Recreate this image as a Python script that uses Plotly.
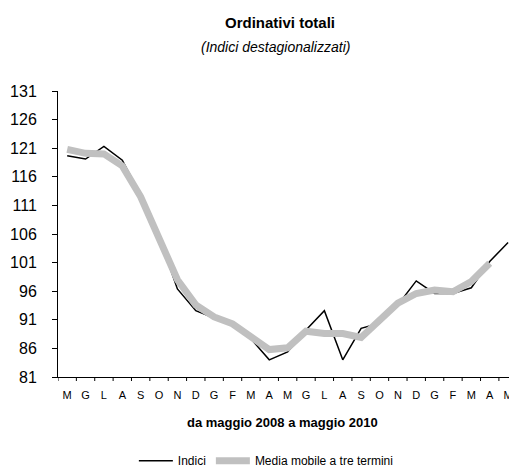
import plotly.graph_objects as go

months = ["M", "G", "L", "A", "S", "O", "N", "D", "G", "F", "M", "A",
          "M", "G", "L", "A", "S", "O", "N", "D", "G", "F", "M", "A", "M"]
indici = [119.7, 119.1, 121.3, 118.9, 112.8, 105.5, 96.4, 92.6, 91.3, 90.1,
          87.7, 84.0, 85.4, 89.2, 92.6, 84.0, 89.5, 90.4, 93.6, 97.8,
          95.6, 95.6, 96.6, 101.2, 104.5]
media = [120.8, 120.1, 120.0, 117.9, 112.5, 105.3, 98.0, 93.6, 91.5, 90.3,
         87.9, 85.8, 86.1, 89.0, 88.6, 88.6, 87.9, 90.7, 93.9, 95.6,
         96.2, 95.9, 97.7, 100.9, None]
y_ticks = [81, 86, 91, 96, 101, 106, 111, 116, 121, 126, 131]

x_idx = list(range(len(months)))
FONT = "Liberation Sans, Arial, sans-serif"

fig = go.Figure()
fig.add_trace(go.Scatter(x=x_idx, y=indici, mode="lines", name="Indici",
                         line=dict(color="black", width=1.5)))
fig.add_trace(go.Scatter(x=x_idx, y=media, mode="lines",
                         name="Media mobile a tre termini",
                         line=dict(color="#c0c0c0", width=7)))

fig.update_layout(
    width=509, height=472,
    margin=dict(l=58, r=0, t=91, b=95, autoexpand=False),
    paper_bgcolor="white", plot_bgcolor="white",
    font=dict(family=FONT, color="black"),
    showlegend=True,
    legend=dict(orientation="h", x=0.462, xanchor="center", y=-0.293,
                yanchor="middle", font=dict(size=12, family="Liberation Sans Narrow, " + FONT),
                traceorder="normal", itemwidth=34, tracegroupgap=0),
    xaxis=dict(
        range=[-0.5, 24.05], tickmode="array", tickvals=x_idx, ticktext=months,
        showline=True, linecolor="black", linewidth=1, showgrid=False,
        zeroline=False, ticks="", tickfont=dict(size=11), ticklabelstandoff=8,
        automargin=False, ticklabeloverflow="allow",
    ),
    yaxis=dict(
        range=[81, 131], tickmode="array", tickvals=y_ticks,
        showline=True, linecolor="black", linewidth=1, showgrid=False,
        zeroline=False, ticks="outside", ticklen=5, tickcolor="black",
        tickfont=dict(size=16), ticklabelstandoff=12, automargin=False,
    ),
    annotations=[
        dict(text="<b>Ordinativi totali</b>", xref="paper", yref="paper",
             x=0.492, y=1.241, xanchor="center", yanchor="middle",
             showarrow=False, font=dict(size=15)),
        dict(text="<i>(Indici destagionalizzati)</i>", xref="paper", yref="paper",
             x=0.483, y=1.153, xanchor="center", yanchor="middle",
             showarrow=False, font=dict(size=14)),
        dict(text="<b>da maggio 2008 a maggio 2010</b>", xref="paper", yref="paper",
             x=0.498, y=-0.16, xanchor="center", yanchor="middle",
             showarrow=False, font=dict(size=13)),
    ],
)

# category boundary tick marks on x axis
for b in [i + 0.5 for i in range(-1, 24)]:
    fig.add_shape(type="line", xref="x", yref="paper", x0=b, x1=b, y0=0, y1=-0.014,
                  line=dict(color="black", width=1))

fig.write_html("out.html", config={"displayModeBar": False},
               post_script="document.body.style.margin='0px';document.body.style.overflow='hidden';")
